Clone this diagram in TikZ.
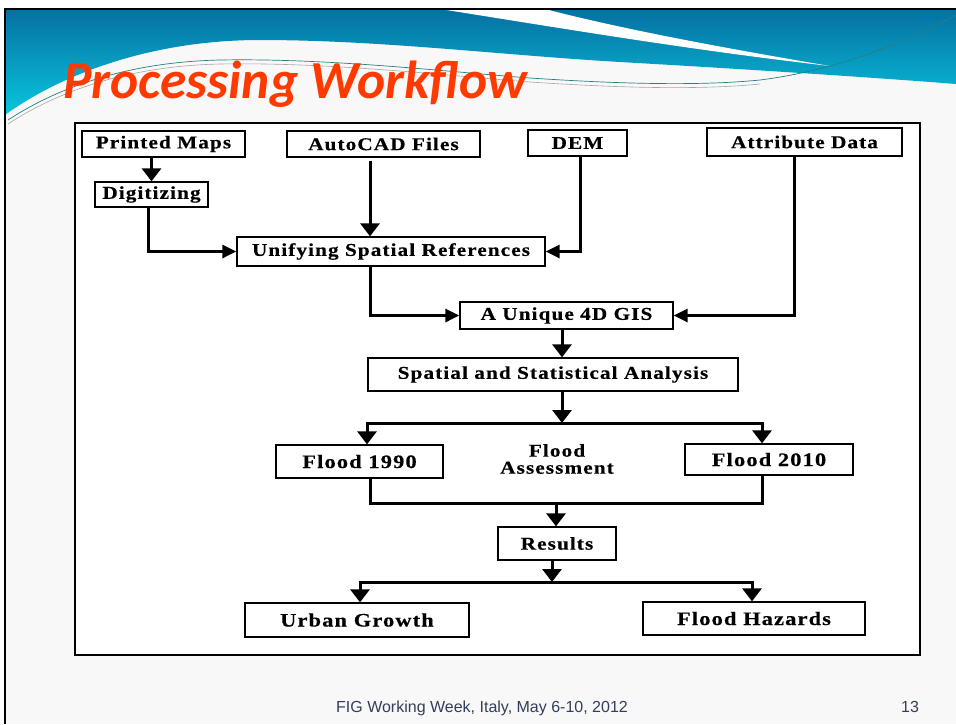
\documentclass[tikz,border=0pt]{standalone}
\usepackage{fontspec}
\usetikzlibrary{arrows.meta,calc}
\setmainfont{Liberation Sans}
\newfontfamily\boxfont[FakeStretch=1.18,LetterSpace=6,FakeBold=0.4]{Liberation Serif}
\newfontfamily\titlefont{Carlito}
\definecolor{titlered}{RGB}{255,58,0}
\definecolor{footgray}{RGB}{52,62,90}
\definecolor{hdtop}{RGB}{6,112,162}
\definecolor{hdbot}{RGB}{8,198,222}
\definecolor{slidebg}{RGB}{248,248,248}
\begin{document}
\begin{tikzpicture}[x=1pt,y=-1pt,
  box/.style={draw=black,line width=1.3pt,fill=white,inner sep=0pt,
    font=\boxfont\bfseries\fontsize{18}{20}\selectfont},
  bigbox/.style={box,font=\boxfont\bfseries\fontsize{19}{21}\selectfont},
  ln/.style={line width=3pt},
  arr/.style={line width=3pt,-{Triangle[width=19pt,length=13pt]}},
  harr/.style={line width=3pt,-{Triangle[width=13pt,length=14pt]}}]
\useasboundingbox (0,0) rectangle (956,724);
% slide background
\fill[white] (0,0) rectangle (956,724);
\fill[slidebg] (5,9) rectangle (956,724);
% header
\shade[top color=hdtop,bottom color=hdbot]
  (5,9) -- (956,9) -- (956,84)
  .. controls (880,78) and (760,70) .. (620,62)
  .. controls (500,55) and (380,40) .. (260,40)
  .. controls (150,40) and (60,75) .. (5,115) -- cycle;
\fill[white] (440,9) .. controls (560,28) and (690,50) .. (830,66)
  .. controls (700,44) and (610,26) .. (545,9) -- cycle;
\draw[teal!70!gray,line width=0.7pt] (8,120) .. controls (60,86) and (130,62) .. (220,60)
  .. controls (330,58) and (450,72) .. (530,78) .. controls (620,84) and (700,86) .. (760,80)
  .. controls (840,70) and (910,40) .. (956,15);
\draw[gray!70,line width=0.6pt] (8,124) .. controls (60,90) and (130,66) .. (220,64)
  .. controls (330,62) and (450,76) .. (530,82) .. controls (620,88) and (700,90) .. (760,84);
% slide frame
\draw[black,line width=2pt] (5,724) -- (5,9) -- (956,9);
% title
\node[anchor=base west,text=titlered,inner sep=0pt,
  font=\titlefont\bfseries\itshape\fontsize{53.5}{58}\selectfont] (title) at (63,98) {Processing Workflow};
% inner frame
\draw[black,line width=1.2pt,fill=white] (75,123) rectangle (920,655);
% nodes
\node[box,minimum width=163,minimum height=26] (pm) at (163.5,144) {Printed Maps};
\node[box,minimum width=193,minimum height=26] (ac) at (383.5,144) {AutoCAD Files};
\node[box,minimum width=99,minimum height=26] (dem) at (577.5,143) {DEM};
\node[box,minimum width=195,minimum height=28] (ad) at (804.5,142) {Attribute Data};
\node[box,minimum width=113,minimum height=25] (dg) at (151.5,194.5) {Digitizing};
\node[box,minimum width=308,minimum height=29] (usr) at (391,251.5) {Unifying Spatial References};
\node[box,minimum width=213,minimum height=27] (gis) at (566.5,315.5) {A Unique 4D GIS};
\node[box,minimum width=370,minimum height=33] (ssa) at (553,374.5) {Spatial and Statistical Analysis};
\node[bigbox,minimum width=167,minimum height=33] (f90) at (359.5,461.5) {Flood 1990};
\node[bigbox,minimum width=168,minimum height=31] (f10) at (769,459.5) {Flood 2010};
\node[align=center,inner sep=0pt,font=\boxfont\bfseries\fontsize{18}{17}\selectfont] (fa) at (557,459) {Flood\\Assessment};
\node[box,minimum width=118,minimum height=33] (res) at (557,543.5) {Results};
\node[bigbox,minimum width=224,minimum height=34] (ug) at (357,620) {Urban Growth};
\node[bigbox,minimum width=222,minimum height=33] (fh) at (754,618.5) {Flood Hazards};
% junction coordinates
\coordinate (fork1) at (562,423);
\coordinate (join) at (556,503);
\coordinate (fork2) at (552,582);
% connectors
\draw[arr] (dg.north |- pm.south) -- (dg.north);
\draw[arr] ([xshift=-13.5pt,yshift=-3pt]ac.south) -- ([xshift=-21pt]usr.north);
\draw[harr] ([xshift=2.5pt]dem.south) |- (usr.east);
\draw[harr] ([xshift=-3.5pt]dg.south) |- (usr.west);
\draw[harr] ([xshift=-21pt]usr.south) |- (gis.west);
\draw[harr] ([xshift=-10.5pt]ad.south) |- (gis.east);
\draw[arr] ([xshift=-4.5pt]gis.south) -- ([xshift=9pt]ssa.north);
\draw[arr] ([xshift=9pt]ssa.south) -- (fork1);
\draw[arr] (fork1) -| ([xshift=7.5pt]f90.north);
\draw[arr] (fork1) -| ([xshift=-7pt]f10.north);
\draw[ln] ([xshift=10.5pt]f90.south) |- ([xshift=-7pt]f10.south |- join) -- ([xshift=-7pt]f10.south);
\draw[arr] (join) -- ([xshift=-1pt]res.north);
\draw[arr] ([xshift=-5pt]res.south) -- (fork2);
\draw[arr] (fork2) -| ([xshift=3pt]ug.north);
\draw[arr] (fork2) -| ([xshift=-2pt]fh.north);
% footer
\node[anchor=base,inner sep=0pt,text=footgray,font=\fontsize{16}{18}\selectfont] (foot) at (482,712) {FIG Working Week, Italy, May 6-10, 2012};
\node[anchor=base,inner sep=0pt,text=footgray,font=\fontsize{16}{18}\selectfont] (page) at (910,712) {13};
\end{tikzpicture}
\end{document}
